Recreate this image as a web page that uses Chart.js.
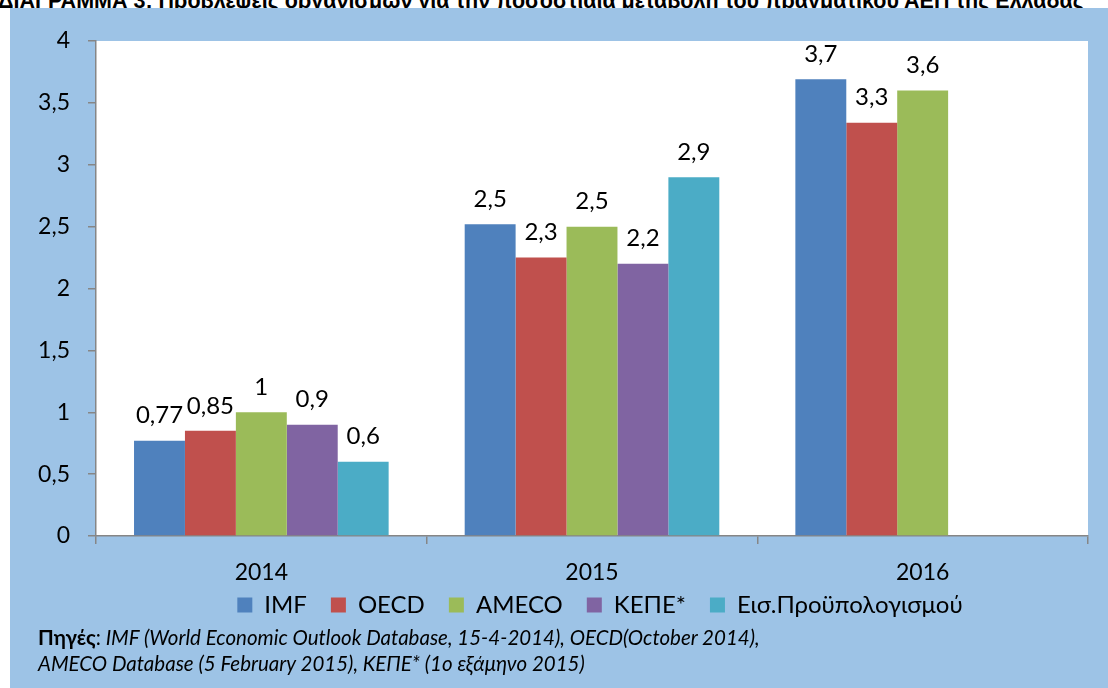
<!DOCTYPE html>
<html>
<head>
<meta charset="utf-8">
<script src="https://cdn.jsdelivr.net/npm/chart.js@4"></script>
<style>
  body { margin: 0; width: 1108px; height: 688px; background: #fff; overflow: hidden; position: relative; }
  #title { position: absolute; left: -2px; top: -11px; white-space: nowrap;
           font: bold 21.5px "Liberation Sans Narrow", "Liberation Sans", sans-serif; color: #000; }
  #panel { position: absolute; left: 10px; top: 8px; width: 1098px; height: 680px; background: #9dc3e6; }
  #wrap { position: absolute; left: 0; top: 0; width: 1098px; height: 636px; }
  .note { position: absolute; left: 28px; font: italic 20.5px Lato, "Open Sans", sans-serif; line-height: 24px; color: #000; white-space: nowrap; }
  .note b { font-style: normal; }
</style>
</head>
<body>
<div id="title">ΔΙΑΓΡΑΜΜΑ 3: Προβλέψεις οργανισμών για την ποσοστιαία μεταβολή του πραγματικού ΑΕΠ της Ελλάδας</div>
<div id="panel">
  <div id="wrap"><canvas id="chart"></canvas></div>
  <div class="note" style="top:617px"><b>Πηγές</b><span style="font-style:normal">:</span> IMF (World Economic Outlook Database, 15-4-2014), OECD(October 2014),</div>
  <div class="note" style="top:643px">AMECO Database (5 February 2015), ΚΕΠΕ* (1ο εξάμηνο 2015)</div>
</div>
<script>
// Categories and series
const years = ["2014", "2015", "2016"];
const imf = [0.77, 2.52, 3.69];
const oecd = [0.85, 2.25, 3.34];
const ameco = [1.0, 2.5, 3.6];
const kepe = [0.9, 2.2, null];
const budget = [0.6, 2.9, null];

// Labels as printed above the bars
const imfLabels = ["0,77", "2,5", "3,7"];
const oecdLabels = ["0,85", "2,3", "3,3"];
const amecoLabels = ["1", "2,5", "3,6"];
const kepeLabels = ["0,9", "2,2", ""];
const budgetLabels = ["0,6", "2,9", ""];

const yTicks = [0, 0.5, 1, 1.5, 2, 2.5, 3, 3.5, 4];

const FONT = "Lato, 'Open Sans', sans-serif";

// white plot area
const plotBg = {
  id: "plotBg",
  beforeDraw(chart) {
    const a = chart.chartArea;
    chart.ctx.save();
    chart.ctx.fillStyle = "#fff";
    chart.ctx.fillRect(a.left, a.top, a.right - a.left, a.bottom - a.top);
    chart.ctx.restore();
  }
};

// pull the legend up close under the year labels
const legendShift = {
  id: "legendShift",
  afterLayout(chart) {
    const lg = chart.legend;
    lg.top -= 17; lg.bottom -= 17;
    lg.left += 8; lg.right += 8;
  }
};

// value labels above the bars
const barLabels = {
  id: "barLabels",
  afterDatasetsDraw(chart) {
    const ctx = chart.ctx;
    ctx.save();
    ctx.font = "24px " + FONT;
    ctx.fillStyle = "#000";
    ctx.textAlign = "center";
    ctx.textBaseline = "middle";
    chart.data.datasets.forEach((ds, i) => {
      chart.getDatasetMeta(i).data.forEach((bar, j) => {
        if (ds.data[j] == null) return;
        ctx.fillText(ds.valueLabels[j], bar.x, bar.y - 25);
      });
    });
    ctx.restore();
  }
};

new Chart(document.getElementById("chart"), {
  type: "bar",
  data: {
    labels: years,
    datasets: [
      { label: "IMF", data: imf, valueLabels: imfLabels, backgroundColor: "#4f81bd" },
      { label: "OECD", data: oecd, valueLabels: oecdLabels, backgroundColor: "#c0504d" },
      { label: "AMECO", data: ameco, valueLabels: amecoLabels, backgroundColor: "#9bbb59" },
      { label: "ΚΕΠΕ*", data: kepe, valueLabels: kepeLabels, backgroundColor: "#8064a2" },
      { label: "Εισ.Προϋπολογισμού", data: budget, valueLabels: budgetLabels, backgroundColor: "#4bacc6" }
    ]
  },
  options: {
    responsive: true,
    maintainAspectRatio: false,
    animation: false,
    events: [],
    datasets: { bar: { barPercentage: 1, categoryPercentage: 0.77 } },
    layout: { padding: { top: 33, right: 20, left: 0, bottom: 0 } },
    plugins: {
      tooltip: { enabled: false },
      legend: {
        position: "bottom",
        fullSize: false,
        labels: { boxWidth: 15, boxHeight: 15, padding: 24, color: "#000", font: { family: FONT, size: 24 } }
      }
    },
    scales: {
      x: {
        grid: { drawOnChartArea: false, tickLength: 8, color: "#868686", lineWidth: 1.5 },
        border: { color: "#868686", width: 1.5 },
        ticks: { color: "#000", padding: 15, font: { family: FONT, size: 23 } },
        afterFit: s => { s.height = 50; }
      },
      y: {
        min: 0,
        max: 4,
        afterBuildTicks: s => { s.ticks = yTicks.map(v => ({ value: v })); },
        grid: { drawOnChartArea: false, tickLength: 8, color: "#868686", lineWidth: 1.5 },
        border: { color: "#868686", width: 1.5 },
        ticks: { color: "#000", padding: 18, font: { family: FONT, size: 23 },
                 callback: v => String(v).replace(".", ",") },
        afterFit: s => { s.width = 86; }
      }
    }
  },
  plugins: [plotBg, legendShift, barLabels]
});
</script>
</body>
</html>
